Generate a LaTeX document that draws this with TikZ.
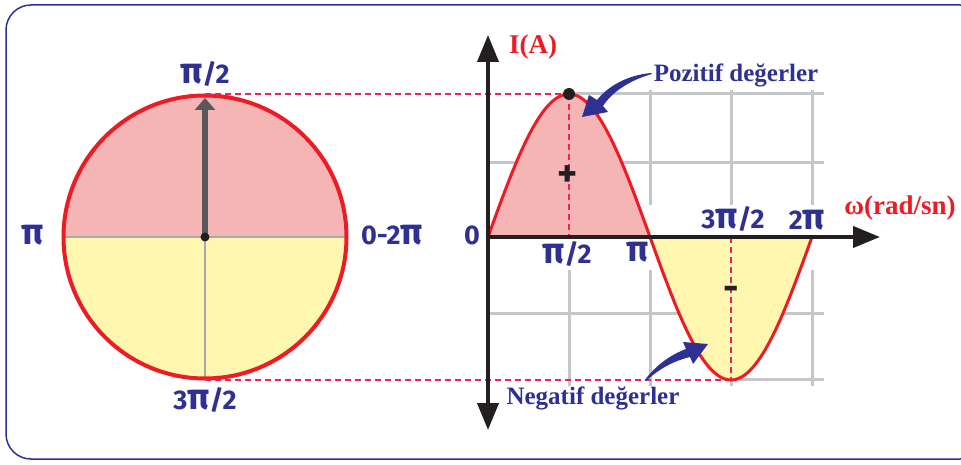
\documentclass[tikz,border=0pt]{standalone}
\usepackage{fontspec}
\usepackage{tikz}
\usetikzlibrary{arrows.meta}
\newfontfamily\labfont{Fira Sans}
\newfontfamily\notefont{Liberation Serif}
\newcommand{\bigpi}{\scalebox{1.35}{π}}
\definecolor{navy}{HTML}{2E3192}
\definecolor{curvered}{HTML}{ED1C24}
\definecolor{dashred}{HTML}{E8245A}
\definecolor{posfill}{HTML}{F5B5B5}
\definecolor{negfill}{HTML}{FFF6B0}
\definecolor{gridgray}{HTML}{C4C6C8}
\definecolor{circgray}{HTML}{A7A9AC}
\definecolor{vecgray}{HTML}{58595B}
\definecolor{axisblack}{HTML}{231F20}

\begin{document}
\begin{tikzpicture}[x=1pt, y=-1pt,
	lab/.style={text=navy, font=\labfont\bfseries\fontsize{27}{27}\selectfont, inner sep=1pt},
	note/.style={text=navy, font=\notefont\bfseries\fontsize{25}{25}\selectfont, inner sep=1pt},
	axislab/.style={text=curvered, font=\notefont\bfseries\fontsize{27}{27}\selectfont, inner sep=1pt},
	sign/.style={text=axisblack, font=\labfont\bfseries\fontsize{38}{38}\selectfont, inner sep=0pt},
	gridline/.style={gridgray, line width=3pt},
	guide/.style={dashred, line width=1.5pt, dash pattern=on 6pt off 4pt},
	axis/.style={axisblack, line width=4pt},
	bigtip/.tip={Triangle[length=27pt, width=21pt]},
	swoosh/.style={fill=navy}]
	\useasboundingbox (0,0) rectangle (961,465);
	\clip (0,0) rectangle (961,465);
	\draw[navy, line width=1.5pt, rounded corners=25pt] (6,5) rectangle (985,459);

	% phasor circle
	\coordinate (O) at (205,237);
	\coordinate (ctop) at (205,94);
	\coordinate (atip) at (205,98);
	\coordinate (cbot) at (205,380);
	\fill[posfill] (O) ++(-141.5,0) arc[start angle=180, end angle=360, radius=141.5] -- cycle;
	\fill[negfill] (O) ++(141.5,0) arc[start angle=0, end angle=180, radius=141.5] -- cycle;
	\draw[circgray, line width=1.5pt] (64,237) -- (346,237);
	\draw[circgray, line width=1.5pt] (O) -- (cbot);
	\draw[curvered, line width=4pt] (O) circle[radius=141.5];
	\draw[vecgray, line width=5.5pt, -{Triangle[length=12pt, width=20pt]}] (O) -- (atip);
	\fill[axisblack] (O) circle[radius=4.5];

	\node[lab] (c90) at (205,74) {\bigpi/2};
	\node[lab] (c180) at (33,235) {\bigpi};
	\node[lab] (c0) at (392,235) {0-2\bigpi};
	\node[lab] (c270) at (205,400) {3\bigpi/2};

	% sine graph
	\coordinate (G) at (488,237);
	\coordinate (peak) at (569,94);
	\coordinate (trough) at (731,380);
	\coordinate (q1) at (569,237);
	\coordinate (q3) at (731,237);
	\foreach \y in {163,313}
		\draw[gridline] (490,\y) -- (824,\y);
	\draw[gridline] (569,94) -- (824,94);
	\draw[gridline] (731,379) -- (824,379);
	\foreach \x in {569,650,731,812} {
		\draw[gridline] (\x,90) -- (\x,205);
		\draw[gridline] (\x,270) -- (\x,386);
	}
	\fill[posfill] plot[domain=0:180, samples=60] ({488+0.9*\x},{237-143*sin(\x)}) -- cycle;
	\fill[negfill] plot[domain=180:360, samples=60] ({488+0.9*\x},{237-143*sin(\x)}) -- cycle;

	\draw[guide] (ctop) -- (peak);
	\draw[guide] (cbot) -- (trough);
	\draw[guide] (peak) -- (q1);
	\draw[guide] (q3) -- (trough);

	\draw[curvered, line width=3pt] plot[domain=0:360, samples=120] ({488+0.9*\x},{237-143*sin(\x)});
	\draw[axis, -{bigtip}] (G) -- (880,237);
	\draw[axis, {bigtip}-{bigtip}] (488,430) -- (488,35);
	\fill[axisblack] (peak) circle[radius=6];

	\node[lab] (zero) at (472,235) {0};
	\node[lab] (x1) at (567,254) {\bigpi/2};
	\node[lab] (x2) at (638,252) {\bigpi};
	\node[lab] (x3) at (733,219) {3\bigpi/2};
	\node[lab] (x4) at (807,220) {2\bigpi};
	\node[sign] (plus) at (568,176) {+};
	\node[sign] (minus) at (731,293) {-};
	\node[axislab] (ylab) at (533,47) {I(A)};
	\node[axislab] (xlab) at (900,208) {ω(rad/sn)};
	\node[note] (pos) at (736,75) {Pozitif değerler};
	\node[note] (neg) at (593,398) {Negatif değerler};

	% pointer arrows
	\coordinate (postail) at (651,73);
	\coordinate (postip) at (582,117);
	\fill[swoosh] (postail) .. controls (628,75) and (608,86) .. (597,100)
		-- (589,95) -- (postip) -- (608,112) -- (603,106)
		.. controls (612,92) and (630,80) .. (652,74) -- cycle;
	\coordinate (negtail) at (645,380);
	\coordinate (negtip) at (708,344);
	\fill[swoosh] (negtail) .. controls (655,366) and (670,355) .. (686,349)
		-- (683,342) -- (negtip) -- (693,364) -- (690,357)
		.. controls (674,361) and (660,368) .. (646,381) -- cycle;
\end{tikzpicture}
\end{document}
